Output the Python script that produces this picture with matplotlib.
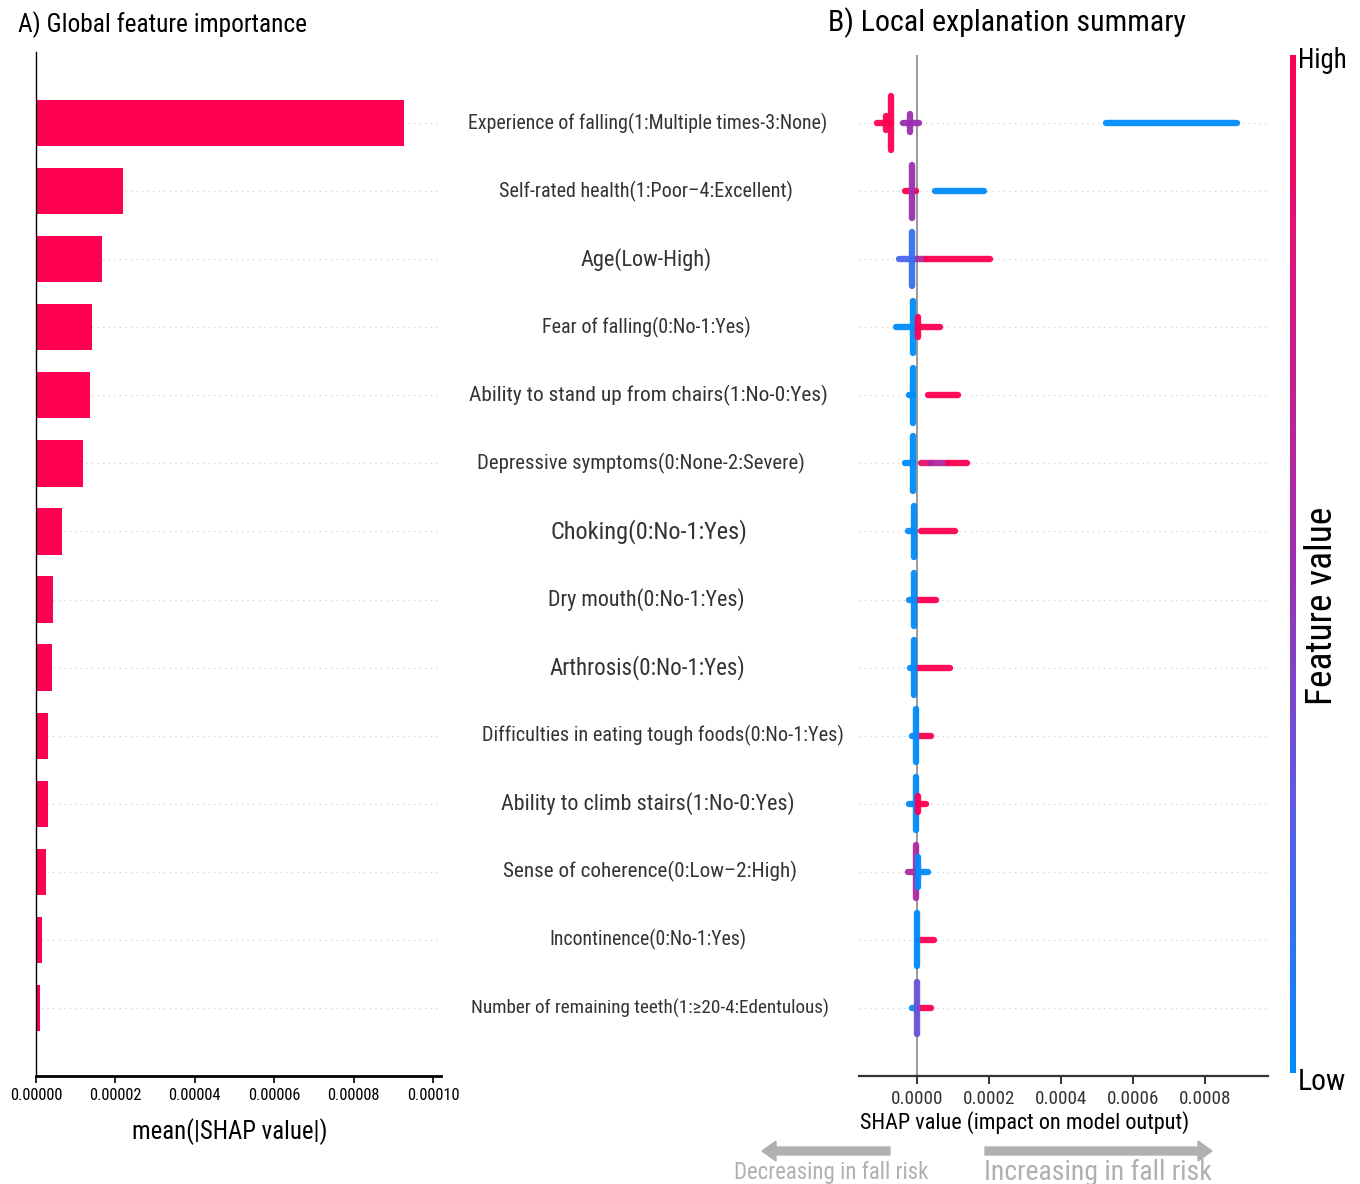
import numpy as np
import matplotlib
matplotlib.use("Agg")
import matplotlib.pyplot as plt
from matplotlib import font_manager
from matplotlib.font_manager import FontProperties
from matplotlib.colors import LinearSegmentedColormap
from matplotlib.cm import ScalarMappable
from matplotlib.ticker import FormatStrFormatter
from matplotlib.transforms import blended_transform_factory

# the reference text is squeezed sideways, so look for a narrow face
prefer = ["LiberationSansNarrow-Regular", "RobotoCondensed-Regular", "DejaVuSansCondensed.",
          "OpenSans_Condensed-Regular", "OpenSansCondensed", "NotoSans-Condensed",
          "NotoSansDisplay-Condensed", "Narrow", "Condensed"]
files = sorted({f.fname for f in font_manager.fontManager.ttflist})
FONT_FILE = None
for key in prefer:
    hits = [p for p in files if key in p.split("/")[-1]
            and "Bold" not in p and "Italic" not in p and "Oblique" not in p
            and "Light" not in p and "Medium" not in p and "Semi" not in p
            and "Black" not in p and "Thin" not in p]
    if hits:
        FONT_FILE = hits[0]
        break

def fp():
    if FONT_FILE:
        return FontProperties(fname=FONT_FILE)
    return FontProperties(family="DejaVu Sans")

# ---------------- data ----------------
features = [
    "Experience of falling(1:Multiple times-3:None)",
    "Self-rated health(1:Poor\u20134:Excellent)",
    "Age(Low-High)",
    "Fear of falling(0:No-1:Yes)",
    "Ability to stand up from chairs(1:No-0:Yes)",
    "Depressive symptoms(0:None-2:Severe)",
    "Choking(0:No-1:Yes)",
    "Dry mouth(0:No-1:Yes)",
    "Arthrosis(0:No-1:Yes)",
    "Difficulties in eating tough foods(0:No-1:Yes)",
    "Ability to climb stairs(1:No-0:Yes)",
    "Sense of coherence(0:Low\u20132:High)",
    "Incontinence(0:No-1:Yes)",
    "Number of remaining teeth(1:\u226520-4:Edentulous)",
]

# mean(|SHAP|), in 1e-6
importance = [92.6, 21.9, 16.6, 14.1, 13.6, 11.9, 6.6, 4.3, 4.0, 3.0, 3.0, 2.5, 1.5, 1.0]

# beeswarm summary, SHAP values in 1e-6, feature value 0 (low) .. 1 (high)
# vertical piles of points
pile_feat = [0, 0, 0, 1, 2, 3, 3, 4, 5, 6, 7, 8, 9, 10, 10, 11, 11, 12, 13]
pile_shap = [-71, -87, -18, -15, -15, -12, 4, -10, -10, -7, -7, -7, -4, -4, 2, -4, 2, -1, -1]
pile_half = [0.40, 0.10, 0.13, 0.39, 0.40, 0.38, 0.15, 0.40, 0.40, 0.38, 0.39, 0.40, 0.39,
             0.39, 0.12, 0.39, 0.22, 0.39, 0.38]
pile_fval = [1.0, 1.0, 0.5, 0.5, 0.15, 0.0, 1.0, 0.0, 0.0, 0.0, 0.0, 0.0, 0.0, 0.0, 1.0,
             0.6, 0.0, 0.0, 0.3]

# horizontal tails of points
tail_feat = [0, 0, 0, 1, 1, 2, 2, 2, 3, 3, 4, 4, 5, 5, 5, 5, 6, 6, 7, 7, 8, 8, 9, 9,
             10, 10, 11, 11, 12, 13, 13]
tail_lo = [-110, -38, 524, -32, 49, -49, -10, 24, -57, 1, -21, 32, -32, 10, 40, 85, -24, 10,
           -21, 0, -18, 0, -15, 1, -21, 1, -26, -4, 4, -15, 4]
tail_hi = [-71, 7, 890, -4, 185, -15, 24, 204, -12, 65, -10, 115, -10, 40, 85, 140, -7, 107,
           -7, 54, -7, 93, -4, 40, -4, 26, -4, 32, 46, -1, 40]
tail_fval = [1.0, 0.5, 0.0, 1.0, 0.0, 0.2, 0.55, 1.0, 0.0, 1.0, 0.0, 1.0, 0.0, 0.85, 0.6, 1.0,
             0.0, 1.0, 0.0, 1.0, 0.0, 1.0, 0.0, 1.0, 0.0, 1.0, 0.6, 0.0, 1.0, 0.0, 1.0]

left_ticks = [0, 0.00002, 0.00004, 0.00006, 0.00008, 0.00010]
right_ticks = [0, 0.0002, 0.0004, 0.0006, 0.0008]

# label layout (pixel centre and width in the reference)
label_cx = [648, 646, 646, 646, 648, 641, 649, 646, 647, 663, 648, 650, 648, 650]
label_w = [357, 293, 131, 208, 356, 324, 196, 196, 194, 357, 291, 292, 196, 357]

# ---------------- plot ----------------
W, H = 1360, 1184
fig = plt.figure(figsize=(W / 100, H / 100), dpi=100)

def fx(px):
    return px / W

def fy(py):
    return 1 - py / H

red = "#ff0051"
cmap = LinearSegmentedColormap.from_list(
    "red_blue", ["#008bfb", "#5a5ee6", "#9b2fb0", "#d21a84", "#ff0051"])

n = len(features)
ypos = [n - 1 - i for i in range(n)]

# A) bar chart
ax1 = fig.add_axes([fx(36), fy(1076), fx(441) - fx(36), fy(55) - fy(1076)])
for y in ypos:
    ax1.axhline(y, color="#cccccc", lw=0.8, dashes=(1, 4), zorder=0)
ax1.barh(ypos, np.array(importance) * 1e-6, height=0.68, color=red, zorder=2)
ax1.set_xlim(0, 0.000102)
ax1.set_ylim(-1, n)
ax1.set_yticks([])
ax1.set_xticks(left_ticks)
ax1.xaxis.set_major_formatter(FormatStrFormatter("%.5f"))
ax1.spines["top"].set_visible(False)
ax1.spines["right"].set_visible(False)
ax1.spines["left"].set_linewidth(1.0)
ax1.spines["left"].set_bounds(-1, n + 0.05)
ax1.spines["bottom"].set_linewidth(2)
ax1.tick_params(axis="x", length=5, width=1.2, pad=4)
ax1.set_xlabel("mean(|SHAP value|)", fontproperties=fp())
ax1.xaxis.set_label_coords((230 - 36) / 405, (H - 1132 - 108) / 1021)
ax1.xaxis.label.set_va("center")

# B) summary plot
ax2 = fig.add_axes([fx(859), fy(1076), fx(1268) - fx(859), fy(55) - fy(1076)])
for y in ypos:
    ax2.axhline(y, color="#cccccc", lw=0.8, dashes=(1, 4), zorder=0)
ax2.axvline(0, color="#999999", lw=1.4, zorder=1)
for f, lo, hi, v in zip(tail_feat, tail_lo, tail_hi, tail_fval):
    y = n - 1 - f
    ax2.plot([lo * 1e-6, hi * 1e-6], [y, y], color=cmap(v), lw=4.6,
             solid_capstyle="round", alpha=0.95, zorder=3)
for f, s, h, v in zip(pile_feat, pile_shap, pile_half, pile_fval):
    y = n - 1 - f
    ax2.plot([s * 1e-6, s * 1e-6], [y - h, y + h], color=cmap(v), lw=4.6,
             solid_capstyle="round", alpha=0.95, zorder=4)
ax2.set_xlim(-0.000161, 0.000975)
ax2.set_ylim(-1, n)
ax2.set_yticks([])
ax2.set_xticks(right_ticks)
ax2.xaxis.set_major_formatter(FormatStrFormatter("%.4f"))
for s in ["top", "right", "left"]:
    ax2.spines[s].set_visible(False)
ax2.spines["bottom"].set_linewidth(1.6)
ax2.spines["bottom"].set_color("#333333")
ax2.tick_params(axis="x", length=6, width=1.4, pad=4, colors="#333333", labelcolor="#333333")
ax2.set_xlabel("SHAP value (impact on model output)", fontproperties=fp())
ax2.xaxis.set_label_coords((1025 - 859) / 409, (H - 1123 - 108) / 1021)
ax2.xaxis.label.set_va("center")

# feature names between the panels
tr = blended_transform_factory(fig.transFigure, ax2.transData)
label_texts = []
for name, y, cx in zip(features, ypos, label_cx):
    label_texts.append(fig.text(fx(cx), y, name, transform=tr, ha="center", va="center",
                                color="#333333", fontproperties=fp()))

# colour bar
cax = fig.add_axes([fx(1290), fy(1073), fx(6), fy(55) - fy(1073)])
cb = fig.colorbar(ScalarMappable(cmap=cmap), cax=cax, ticks=[])
cb.outline.set_visible(False)
t_high = fig.text(fx(1298), fy(60), "High", ha="left", va="center", fontproperties=fp())
t_low = fig.text(fx(1298), fy(1082), "Low", ha="left", va="center", fontproperties=fp())
t_fv = fig.text(fx(1322), fy(606), "Feature value", ha="center", va="center",
                rotation=90, fontproperties=fp())

# titles
t_a = fig.text(fx(18), fy(25), "A) Global feature importance", ha="left", va="center",
               fontproperties=fp())
t_b = fig.text(fx(828), fy(23), "B) Local explanation summary", ha="left", va="center",
               fontproperties=fp())

# risk arrows
grey = "#b0b0b0"
fig.patches.append(matplotlib.patches.FancyArrow(
    fx(890), fy(1151), fx(762) - fx(890), 0, width=8 / H, head_width=20 / H,
    head_length=14 / W, length_includes_head=True, color=grey, transform=fig.transFigure))
fig.patches.append(matplotlib.patches.FancyArrow(
    fx(985), fy(1151), fx(1212) - fx(985), 0, width=8 / H, head_width=20 / H,
    head_length=14 / W, length_includes_head=True, color=grey, transform=fig.transFigure))
t_dec = fig.text(fx(831), fy(1172), "Decreasing in fall risk", ha="center", va="center",
                 color=grey, fontproperties=fp())
t_inc = fig.text(fx(1098), fy(1172), "Increasing in fall risk", ha="center", va="center",
                 color=grey, fontproperties=fp())

for t in ax1.get_xticklabels() + ax2.get_xticklabels():
    t.set_fontproperties(fp())

# size text so the widths match the reference
fig.canvas.draw()
renderer = fig.canvas.get_renderer()

def fit(t, px, vertical=False):
    bb = t.get_window_extent(renderer)
    w = bb.height if vertical else bb.width
    t.set_fontsize(t.get_fontsize() * px / w)

for t, w in zip(label_texts, label_w):
    fit(t, w)
fit(t_a, 287)
fit(t_b, 356)
fit(t_high, 49)
fit(t_low, 48)
fit(t_fv, 197, vertical=True)
fit(t_dec, 193)
fit(t_inc, 227)
fit(ax1.xaxis.label, 195)
fit(ax2.xaxis.label, 326)

lt = ax1.get_xticklabels()[0]
lt_size = lt.get_fontsize() * 52 / lt.get_window_extent(renderer).width
rt = ax2.get_xticklabels()[0]
rt_size = rt.get_fontsize() * 51 / rt.get_window_extent(renderer).width
for t in ax1.get_xticklabels():
    t.set_fontproperties(fp())
    t.set_fontsize(lt_size)
for t in ax2.get_xticklabels():
    t.set_fontproperties(fp())
    t.set_fontsize(rt_size)

fig.savefig("out.png", dpi=100)
